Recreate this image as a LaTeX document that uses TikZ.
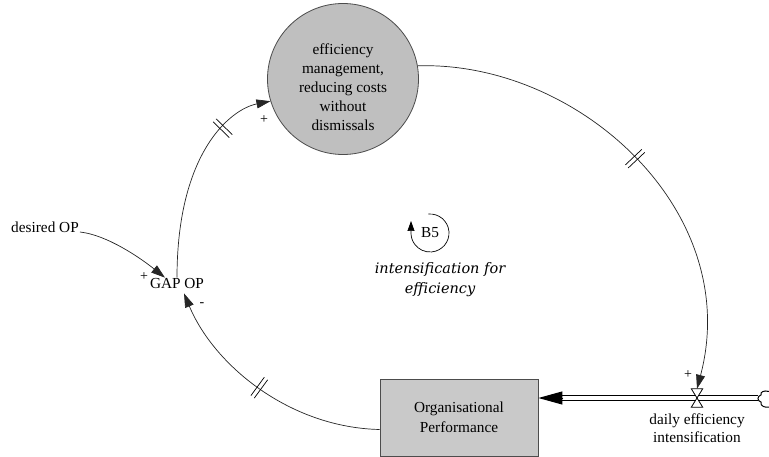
\documentclass[tikz,border=0pt]{standalone}
\usepackage{fontspec}
\setmainfont{Liberation Serif}
\newfontfamily\loopfont{DejaVu Serif}
\usetikzlibrary{arrows.meta}

\begin{document}
\begin{tikzpicture}[x=1pt,y=-1pt,
  every node/.style={font=\fontsize{15.3}{19}\selectfont, inner sep=1pt},
  stock/.style={draw=black!70, line width=0.8pt, fill=black!21, minimum width=158pt, minimum height=77pt, align=center, font=\fontsize{15.3}{20.5}\selectfont},
  level/.style={circle, draw=black!70, line width=0.8pt, fill=black!25, minimum size=151pt, inner sep=0pt},
  lbl/.style={align=center},
  link/.style={draw=black!85, line width=0.7pt, -{Triangle[length=14pt,width=9pt]}},
  delaymark/.style={sloped, inner sep=0pt, minimum width=3.5pt, minimum height=22pt},
  polarity/.style={font=\fontsize{14}{14}\selectfont, inner sep=0pt},
  pipe/.style={draw=black, line width=1.1pt, double=white, double distance=3.5pt},
]
\useasboundingbox (0,0) rectangle (769,457);

% stock, level and auxiliary variables
\node[level] (eff) at (343,79) {};
\node[lbl] (efftext) at (343,87) {efficiency\\management,\\reducing costs\\without\\dismissals};
\node[stock] (perf) at (459,417.5) {Organisational\\Performance};
\node (gap) at (177,284) {GAP OP};
\node (desired) at (45,227) {desired OP};

% flow: cloud -> valve -> stock
\node[minimum width=11pt, minimum height=18pt, inner sep=0pt] (valve) at (697,398) {};
\node[lbl, font=\fontsize{15.3}{18.5}\selectfont] (flowname) at (697,428) {daily efficiency\\intensification};
\coordinate (cloud) at (758,398);
\coordinate (inflow) at ([yshift=19.5pt]perf.east);

\draw[pipe] (cloud) -- ([xshift=22pt]inflow);
\draw[line width=1pt, -{Triangle[length=24pt,width=13pt]}] ([xshift=25pt]inflow) -- (inflow);
\filldraw[fill=white, draw=black, line width=0.8pt]
  (valve.north west) -- (valve.north east) -- (valve.south west) -- (valve.south east) -- cycle;
\begin{scope}[shift={(cloud)}]
  \draw[line width=1pt] (11,-6.5) .. controls (6,-8) and (2,-6) .. (3,-3)
    .. controls (-1,-2) and (-1,3) .. (3,4) .. controls (2,8) and (7,10) .. (11,9);
\end{scope}

% causal links
\draw[link] (eff.10) .. controls +(160,-5) and +(47,-178) .. (valve.north)
  node[delaymark, pos=0.5] (d1) {};
\draw[link] ([yshift=-12pt]perf.west) .. controls +(-90,-2) and +(30,72) .. ([xshift=7pt,yshift=-3pt]gap.south)
  node[delaymark, pos=0.5] (d2) {};
\draw[link] (gap.north) .. controls +(0,-125) and +(-40,8) .. (eff.197)
  node[delaymark, pos=0.62] (d3) {};
\draw[link] ([yshift=-5pt]desired.east) .. controls +(27,3) and +(-25,-20) .. ([xshift=-12pt]gap.north);

% delay marks
\foreach \d in {d1,d2,d3}
  \draw[line width=0.7pt] (\d.north west) -- (\d.south west) (\d.north east) -- (\d.south east);

% polarities
\node[polarity] (p1) at (264,120) {+};
\node[polarity] (p2) at (144,277) {+};
\node[polarity] (p3) at (202,305) {-};
\node[polarity] (p4) at (688,375) {+};

% loop identifier
\node (loopid) at (430,233) {B5};
\draw[line width=0.7pt, -{Triangle[length=10pt,width=7pt]}]
  (loopid.center) ++(-95:19) arc[start angle=-95, end angle=180, radius=19] -- ++(0,-12);
\node[lbl, font=\loopfont\itshape\fontsize{14.5}{20}\selectfont] (loopname) at (440,280) {intensification for\\efficiency};
\end{tikzpicture}
\end{document}
